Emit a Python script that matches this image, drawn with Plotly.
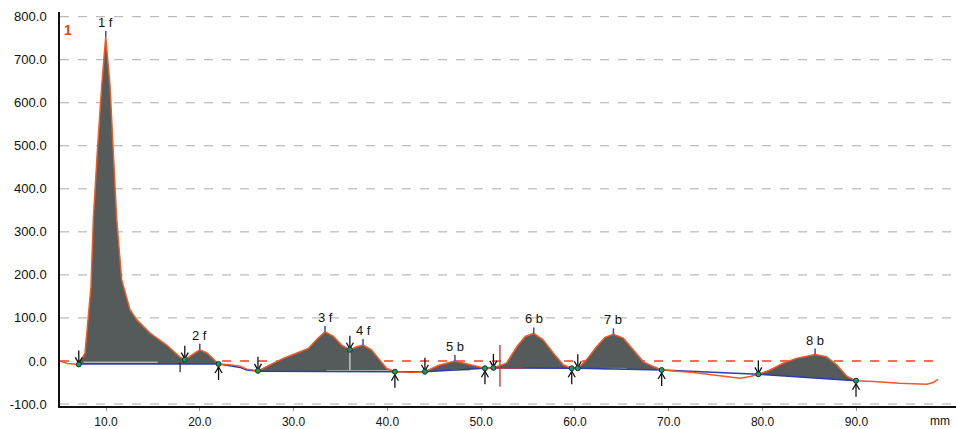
import plotly.graph_objects as go
import numpy as np

# ---------------- data ----------------
SIGNAL_MM = [5.1, 5.9, 7.1, 7.76, 8.40, 8.65, 9.07, 9.54, 9.97, 10.43, 10.78, 11.14, 11.67,
             12.56, 13.27, 14.69, 16.47, 17.89, 18.4, 19.2, 20.0, 20.8, 21.4, 22.0, 23.2,
             24.3, 25.0, 26.2, 27.48, 28.9, 30.3, 31.57, 32.46, 33.35, 34.24, 35.13, 36.0,
             36.73, 37.4, 38.3, 39.2, 39.9, 40.8, 42.5, 44.0, 45.5, 47.2, 49.0, 50.4, 51.3,
             52.7, 53.8, 54.7, 55.6, 56.6, 57.7, 58.75, 59.65, 60.3, 61.2, 62.3, 63.2, 64.1,
             65.15, 66.2, 67.3, 68.35, 69.24, 72.6, 76.2, 77.6, 78.7, 79.55, 80.8, 82.2,
             83.6, 85.6, 86.8, 87.9, 89.0, 89.96, 91.8, 94.6, 97.5, 98.2, 98.7]
SIGNAL_VAL = [0, -6, -8, 18, 173, 329, 485, 639, 753, 639, 485, 329, 189,
              119, 96, 65, 37, 9, 3, 15, 26, 18, 5, -7, -9,
              -12, -19, -23, -9, 6, 18, 29, 50, 68, 57, 37, 26,
              33, 37, 26, 2, -17, -25, -27, -25, -10, 0, -9, -17, -16,
              -5, 33, 57, 64, 49, 18, -9, -17, -17, 2, 33, 55, 62,
              53, 26, -2, -13, -21, -27, -36, -40, -36, -31, -21, -5,
              6, 15, 10, -9, -36, -46, -48, -52, -54, -50, -43]

BASE_MM = [7.1, 22.0, 23.2, 24.3, 25.0, 26.2, 40.8, 44.0, 50.4, 51.3, 59.65, 60.3, 69.24, 79.55, 89.96]
BASE_VAL = [-7, -7, -11, -15, -21, -24, -25, -25, -17, -16, -17, -17, -21, -31, -46]

PEAK_LABELS = ["1 f", "2 f", "3 f", "4 f", "5 b", "6 b", "7 b", "8 b"]
PEAK_START = [7.1, 18.4, 26.2, 36.0, 44.0, 51.3, 60.3, 79.55]
PEAK_END = [18.4, 22.0, 36.0, 40.8, 50.4, 59.65, 69.24, 89.96]
PEAK_TOP = [9.97, 20.0, 33.35, 37.4, 47.2, 55.6, 64.1, 85.6]

ARROW_DOWN_MM = [7.1, 18.4, 26.2, 36.0, 44.0, 51.3, 60.3, 79.55]
ARROW_UP_MM = [22.0, 40.8, 50.4, 59.65, 69.24, 89.96]

X_TICKS = [10, 20, 30, 40, 50, 60, 70, 80, 90]
Y_TICKS = [-100, 0, 100, 200, 300, 400, 500, 600, 700, 800]
GRID_Y = [-100, 100, 200, 300, 400, 500, 600, 700, 800]

MARKER_MM = 52.0
MARKER_RANGE = [37, -60]

# ---------------- layout constants ----------------
W, H = 956, 429
ML, MR, MT, MB = 60, 0, 12, 23
XR = [5.096, 100.62]
YR = [-104.65, 810.9]
XU = (XR[1] - XR[0]) / (W - ML - MR)   # data units per pixel (x)
YU = (YR[1] - YR[0]) / (H - MT - MB)   # data units per pixel (y)

sx = np.array(SIGNAL_MM, dtype=float)
sv = np.array(SIGNAL_VAL, dtype=float)
bx = np.array(BASE_MM, dtype=float)
bv = np.array(BASE_VAL, dtype=float)


def sig(x):
    return float(np.interp(x, sx, sv))


def base(x):
    return float(np.interp(x, bx, bv))


FONT = "Liberation Sans, Arial, sans-serif"
ORANGE = "#f05a24"
BLUE = "#2c3ca8"
FILL = "#555b5b"

fig = go.Figure()

# red dashed zero line
fig.add_trace(go.Scatter(x=[5.1, 99.0], y=[0, 0], mode="lines",
                         line=dict(color="#ff3b1f", width=1.5, dash="dash"),
                         hoverinfo="skip", showlegend=False))

# filled peaks
for s, e in zip(PEAK_START, PEAK_END):
    inner = [(x, v) for x, v in zip(SIGNAL_MM, SIGNAL_VAL) if s < x < e]
    px = [s] + [p[0] for p in inner] + [e, e, s, s]
    py = [sig(s)] + [p[1] for p in inner] + [sig(e), base(e), base(s), sig(s)]
    fig.add_trace(go.Scatter(x=px, y=py, mode="lines", fill="toself",
                             fillcolor=FILL, line=dict(width=0, color=FILL),
                             hoverinfo="skip", showlegend=False))

# light grey helper segments
LIGHT_SEGS = [((7.6, 15.5), -3), ((33.5, 40.3), -23), ((46.9, 48.8), -21), ((62.7, 65.5), -18)]
for (a, b), v in LIGHT_SEGS:
    fig.add_trace(go.Scatter(x=[a, b], y=[v, v], mode="lines",
                             line=dict(color="#b4b4b4", width=1.5),
                             hoverinfo="skip", showlegend=False))
# valley separator between 3 f and 4 f
fig.add_trace(go.Scatter(x=[36.0, 36.0], y=[sig(36.0), base(36.0)], mode="lines",
                         line=dict(color="#c0c0c0", width=1.5),
                         hoverinfo="skip", showlegend=False))

# blue baseline
fig.add_trace(go.Scatter(x=BASE_MM, y=BASE_VAL, mode="lines",
                         line=dict(color=BLUE, width=1.5),
                         hoverinfo="skip", showlegend=False))

# small tick at 17.9
fig.add_trace(go.Scatter(x=[17.9, 17.9], y=[-4, -26], mode="lines",
                         line=dict(color="#222222", width=1.2),
                         hoverinfo="skip", showlegend=False))

# red cursor
fig.add_trace(go.Scatter(x=[MARKER_MM, MARKER_MM], y=MARKER_RANGE, mode="lines",
                         line=dict(color="#e82020", width=1.3),
                         hoverinfo="skip", showlegend=False))
fig.add_trace(go.Scatter(x=[49.8, 54.5], y=[-16, -16], mode="lines",
                         line=dict(color="#e82020", width=1.3),
                         hoverinfo="skip", showlegend=False))

# signal
fig.add_trace(go.Scatter(x=SIGNAL_MM, y=SIGNAL_VAL, mode="lines",
                         line=dict(color=ORANGE, width=1.5),
                         hoverinfo="skip", showlegend=False))

# arrows (stem + open chevron head), sized in pixels
ax_, ay_ = [], []
STEM, HW, HL = 13, 3.5, 6
for m in ARROW_DOWN_MM:
    tip = sig(m) + 1 * YU
    ax_ += [m, m, None, m - HW * XU, m, m + HW * XU, None]
    ay_ += [tip + STEM * YU, tip, None, tip + HL * YU, tip, tip + HL * YU, None]
for m in ARROW_UP_MM:
    tip = sig(m) - 3 * YU
    ax_ += [m, m, None, m - HW * XU, m, m + HW * XU, None]
    ay_ += [tip - STEM * YU, tip, None, tip - HL * YU, tip, tip - HL * YU, None]
fig.add_trace(go.Scatter(x=ax_, y=ay_, mode="lines",
                         line=dict(color="#111111", width=1.3),
                         hoverinfo="skip", showlegend=False))

# green dots
dot_x = ARROW_DOWN_MM + ARROW_UP_MM
dot_y = [sig(x) for x in dot_x]
fig.add_trace(go.Scatter(x=dot_x, y=dot_y, mode="markers",
                         marker=dict(color="#1f9a70", size=5,
                                     line=dict(color="#0a3a30", width=1)),
                         hoverinfo="skip", showlegend=False))

shapes = []
for g in GRID_Y:
    shapes.append(dict(type="line", xref="paper", x0=0, x1=1, yref="y", y0=g, y1=g,
                       line=dict(color="#ababab", width=1, dash="dash"), layer="below"))
for m in PEAK_TOP:
    shapes.append(dict(type="line", xref="x", x0=m, x1=m, yref="y", ysizemode="pixel",
                       yanchor=sig(m), y0=0, y1=6, line=dict(color="#3646c8", width=1.5)))

annotations = []
for lab, m in zip(PEAK_LABELS, PEAK_TOP):
    annotations.append(dict(x=m, y=sig(m), xref="x", yref="y", text=lab, showarrow=False,
                            yanchor="bottom", yshift=5, font=dict(size=13, color="#111111", family=FONT)))
annotations.append(dict(x=5.95, y=769, xref="x", yref="y", text="<b>1</b>", showarrow=False,
                        font=dict(size=14, color="#f04010", family=FONT)))
annotations.append(dict(x=98.9, y=0, xref="x", yref="paper", text="mm", showarrow=False,
                        yanchor="middle", yshift=-15, font=dict(size=12, color="#111111", family=FONT)))

fig.update_layout(
    width=W, height=H,
    margin=dict(l=ML, r=MR, t=MT, b=MB, autoexpand=False),
    paper_bgcolor="white", plot_bgcolor="white",
    font=dict(family=FONT, size=13, color="#111111"),
    shapes=shapes, annotations=annotations,
    xaxis=dict(range=XR, tickvals=X_TICKS, automargin=False,
               ticktext=[f"{v:.1f}" for v in X_TICKS],
               showgrid=False, zeroline=False, showline=True, linecolor="#111111", linewidth=2,
               ticks="outside", ticklen=3, tickcolor="#999999", tickwidth=1,
               ticklabelstandoff=1,
               tickfont=dict(size=12, color="#111111", family=FONT)),
    yaxis=dict(range=YR, tickvals=Y_TICKS, automargin=False,
               ticktext=[f"{v:.1f}" for v in Y_TICKS],
               showgrid=False, zeroline=False, showline=True, linecolor="#111111", linewidth=1.5,
               ticks="", ticklabelstandoff=9,
               tickfont=dict(size=13, color="#111111", family=FONT)),
)

fig.write_html("out.html", config={"displayModeBar": False},
               post_script="document.body.style.margin='0px';document.body.style.overflow='hidden';")
